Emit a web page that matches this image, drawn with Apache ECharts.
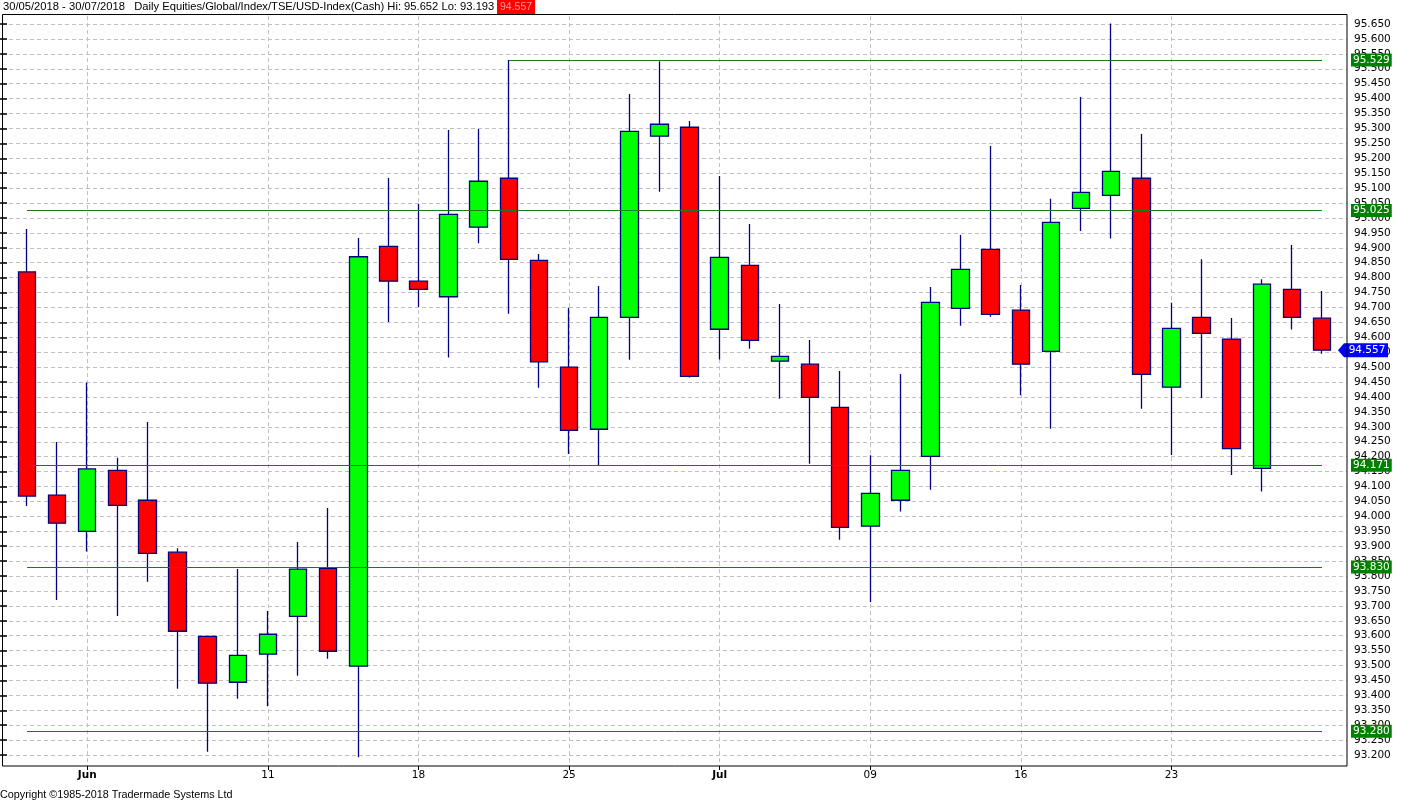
<!DOCTYPE html>
<html><head><meta charset="utf-8">
<script src="https://cdn.jsdelivr.net/npm/echarts@6/dist/echarts.min.js"></script>
<style>html,body{margin:0;padding:0;background:#fff}#c{width:1401px;height:802px}</style>
</head><body><div id="c"></div>
<script>
const dates = ['2018-05-30','2018-05-31','2018-06-01','2018-06-04','2018-06-05','2018-06-06','2018-06-07','2018-06-08','2018-06-11','2018-06-12','2018-06-13','2018-06-14','2018-06-15','2018-06-18','2018-06-19','2018-06-20','2018-06-21','2018-06-22','2018-06-25','2018-06-26','2018-06-27','2018-06-28','2018-06-29','2018-07-02','2018-07-03','2018-07-04','2018-07-05','2018-07-06','2018-07-09','2018-07-10','2018-07-11','2018-07-12','2018-07-13','2018-07-16','2018-07-17','2018-07-18','2018-07-19','2018-07-20','2018-07-23','2018-07-24','2018-07-25','2018-07-26','2018-07-27','2018-07-30'];
const opens  = [94.819,94.071,93.950,94.154,94.054,93.880,93.598,93.444,93.538,93.665,93.826,93.498,94.905,94.788,94.736,94.969,95.133,94.858,94.500,94.292,94.667,95.274,95.304,94.627,94.841,94.520,94.510,94.365,93.967,94.054,94.201,94.697,94.895,94.691,94.553,95.032,95.076,95.133,94.433,94.667,94.594,94.161,94.761,94.664];
const closes = [94.068,93.977,94.159,94.037,93.876,93.615,93.441,93.534,93.605,93.823,93.548,94.870,94.788,94.761,95.012,95.123,94.861,94.518,94.288,94.667,95.290,95.314,94.469,94.868,94.590,94.536,94.399,93.963,94.077,94.154,94.717,94.828,94.677,94.510,94.985,95.086,95.156,94.476,94.630,94.613,94.227,94.778,94.667,94.557];
const highs  = [94.963,94.249,94.449,94.196,94.316,93.893,93.600,93.824,93.683,93.914,94.028,94.933,95.134,95.047,95.295,95.298,95.529,94.879,94.699,94.772,95.415,95.525,95.325,95.141,94.980,94.712,94.591,94.487,94.205,94.477,94.769,94.943,95.241,94.775,95.064,95.405,95.652,95.281,94.716,94.862,94.665,94.795,94.909,94.755];
const lows   = [94.035,93.720,93.882,93.666,93.781,93.422,93.211,93.389,93.364,93.466,93.523,93.193,94.651,94.702,94.532,94.915,94.679,94.431,94.209,94.172,94.525,95.088,94.465,94.526,94.562,94.394,94.176,93.922,93.713,94.016,94.089,94.639,94.669,94.406,94.294,94.956,94.931,94.361,94.206,94.397,94.139,94.083,94.626,94.545];
const tickDates  = ['2018-06-01','2018-06-11','2018-06-18','2018-06-25','2018-07-02','2018-07-09','2018-07-16','2018-07-23'];
const tickLabels = ['Jun','11','18','25','Jul','09','16','23'];
const monthLabels = ['Jun','Jul'];
const levelValues = [95.529, 95.025, 94.171, 93.830, 93.280];
const levelStarts = ['2018-06-21','2018-05-30','2018-05-30','2018-05-30','2018-05-30'];
const lastPrice = 94.557;
const periodHigh = 95.652, periodLow = 93.193;
const yMin = 93.15, yMax = 95.70, yStep = 0.05;

const titleText = '30/05/2018 - 30/07/2018   Daily Equities/Global/Index/TSE/USD-Index(Cash) Hi: ' +
  periodHigh.toFixed(3) + ' Lo: ' + periodLow.toFixed(3);

const isTick = (idx, val) => tickDates.indexOf(val) >= 0;
const axisFont = 'DejaVu Sans';
const gridColor = '#c0c0c0';
const levelColor = '#1a7a1a';

const chart = echarts.init(document.getElementById('c'), null, {renderer: 'canvas'});
chart.setOption({
  animation: false,
  backgroundColor: '#fff',
  grid: [
    {left: 2, right: 54, top: 9.08, bottom: 32},
    {left: 27, right: 79, top: 9.08, bottom: 32}
  ],
  xAxis: [
    {gridIndex: 0, type: 'value', show: false, min: 0, max: 1},
    {gridIndex: 1, type: 'category', data: dates, boundaryGap: false,
      axisLine: {show: false},
      axisTick: {show: true, inside: true, length: 4, interval: isTick, lineStyle: {color: '#000', width: 1}},
      axisLabel: {interval: isTick, margin: 0, color: '#000', fontFamily: axisFont, fontSize: 10.5,
        formatter: (v) => {
          const k = tickDates.indexOf(v);
          const t = k >= 0 ? tickLabels[k] : '';
          return monthLabels.indexOf(t) >= 0 ? '{m|' + t + '}' : t;
        },
        rich: {m: {fontWeight: 'bold', fontFamily: axisFont, fontSize: 10.5, color: '#000'}}
      },
      splitLine: {show: true, interval: isTick, lineStyle: {color: gridColor, type: [4, 3], width: 1}}
    }
  ],
  yAxis: [
    {gridIndex: 0, type: 'value', position: 'right', min: yMin, max: yMax, interval: yStep,
      axisLine: {show: false},
      axisTick: {show: true, inside: true, length: 4, lineStyle: {color: '#000', width: 1.5}},
      axisLabel: {margin: 7, color: '#000', fontFamily: axisFont, fontSize: 10.5,
        showMinLabel: false, showMaxLabel: false, formatter: (v) => v.toFixed(3)},
      splitLine: {show: true, showMinLine: false, showMaxLine: false,
        lineStyle: {color: gridColor, type: [4, 3], width: 1}}
    },
    {gridIndex: 0, type: 'value', position: 'left', min: yMin, max: yMax, interval: yStep,
      axisLine: {show: false},
      axisTick: {show: true, inside: true, length: 5, lineStyle: {color: '#000', width: 1.5}},
      axisLabel: {show: false}, splitLine: {show: false}
    },
    {gridIndex: 1, type: 'value', min: yMin, max: yMax, show: false}
  ],
  series: [{
    type: 'candlestick',
    xAxisIndex: 1, yAxisIndex: 2,
    clip: false,
    barWidth: 18,
    data: dates.map((d, i) => [opens[i], closes[i], lows[i], highs[i]]),
    itemStyle: {color: '#00ff00', color0: '#ff0000', borderColor: '#000080', borderColor0: '#000080',
      borderColorDoji: '#000080', borderWidth: 1.3},
    markLine: {
      silent: true, symbol: ['none', 'none'], animation: false,
      lineStyle: {color: levelColor, width: 1, type: 'solid'},
      label: {show: true, position: 'end', distance: 29, color: '#fff', backgroundColor: '#008000',
        padding: [1, 2, 0, 2], fontFamily: axisFont, fontSize: 10.5, lineHeight: 12,
        formatter: (p) => levelValues[p.dataIndex].toFixed(3)},
      data: levelValues.map((v, i) => [{coord: [levelStarts[i], v]}, {coord: [dates[dates.length - 1], v]}])
    },
    markPoint: {
      silent: true, animation: false,
      symbol: 'path://M0,7 L6,0 L50,0 L50,14 L6,14 Z', symbolSize: [50, 14], symbolOffset: [41, 0],
      symbolKeepAspect: false,
      itemStyle: {color: '#0000ff'},
      label: {show: true, position: 'inside', offset: [4, 0], color: '#fff', fontFamily: axisFont, fontSize: 10.5,
        formatter: lastPrice.toFixed(3)},
      data: [{coord: [dates[dates.length - 1], lastPrice]}]
    }
  }],
  graphic: [
    {type: 'rect', z: 50, shape: {x: 0, y: 0, width: 1401, height: 14}, style: {fill: '#fff'}, silent: true},
    {type: 'rect', z: 50, shape: {x: 0, y: 767, width: 10, height: 6}, style: {fill: '#fff'}, silent: true},
    {type: 'rect', z: 50, shape: {x: 1338, y: 767, width: 14, height: 6}, style: {fill: '#fff'}, silent: true},
    {type: 'rect', z: 60, shape: {x: 2.5, y: 14.5, width: 1344.5, height: 751.5},
      style: {fill: 'none', stroke: '#000', lineWidth: 1}, silent: true},
    {type: 'text', z: 70, style: {x: 3, y: 7, text: titleText, fill: '#000',
      font: '11.2px "Liberation Sans"', verticalAlign: 'middle', align: 'left'}},
    {type: 'text', z: 70, style: {x: 497, y: 7, text: lastPrice.toFixed(3), fill: '#ff9a9a',
      backgroundColor: '#ff0000', padding: [2, 3, 1, 3],
      font: '10.5px "Liberation Sans"', verticalAlign: 'middle', align: 'left'}},
    {type: 'text', z: 70, style: {x: 0, y: 795, text: 'Copyright \u00a91985-2018 Tradermade Systems Ltd', fill: '#000',
      font: '10.8px "Liberation Sans"', verticalAlign: 'middle', align: 'left'}}
  ]
});
</script>
</body></html>
